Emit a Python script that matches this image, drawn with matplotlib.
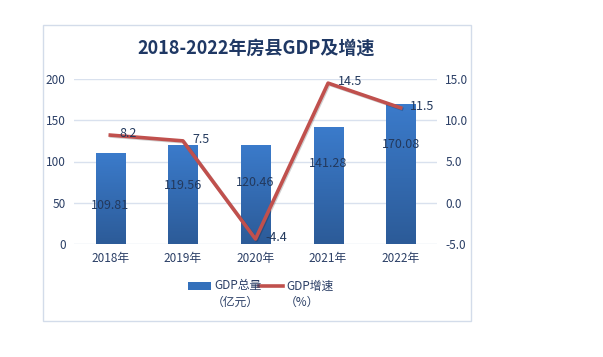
import numpy as np
import matplotlib.pyplot as plt
from matplotlib.patches import Rectangle
from matplotlib.colors import LinearSegmentedColormap
import matplotlib.patheffects as pe

plt.rcParams['font.family'] = ['Noto Sans CJK SC', 'DejaVu Sans']

years = ["2018年", "2019年", "2020年", "2021年", "2022年"]
gdp_total = [109.81, 119.56, 120.46, 141.28, 170.08]
gdp_growth = [8.2, 7.5, -4.4, 14.5, 11.5]

# label heights for bar values (layout only)
bar_label_y = [47, 71, 75, 98, 121]

navy = "#1f3864"
txt = "#2b3f66"
grid_c = "#d9e1ee"
red = "#c0504d"

fig = plt.figure(figsize=(6.03, 3.57), dpi=100)
fig.patch.set_facecolor("white")

# chart frame
fig.patches.append(Rectangle((43 / 603, 1 - 321 / 357), 428 / 603, 296 / 357,
                             transform=fig.transFigure, fill=False,
                             edgecolor="#d3dcea", linewidth=1.0))

ax = fig.add_axes([74 / 603, 1 - 244 / 357, 363 / 603, 165 / 357])
ax2 = ax.twinx()

x = np.arange(len(years))
bars = ax.bar(x, gdp_total, width=0.4, color="none", edgecolor="none", zorder=2)

# vertical gradient fill for bars
grad = np.linspace(0, 1, 256).reshape(-1, 1)
cmap = LinearSegmentedColormap.from_list("bar", ["#2c5b98", "#3b7bcb"])
for b in bars:
    x0, y0 = b.get_x(), b.get_y()
    w, h = b.get_width(), b.get_height()
    im = ax.imshow(grad, extent=[x0, x0 + w, y0, y0 + h], origin="lower",
                   cmap=cmap, aspect="auto", zorder=2)
    im.set_clip_path(b)

for i, v in enumerate(gdp_total):
    ax.text(x[i], bar_label_y[i], f"{v:.2f}", ha="center", va="center",
            fontsize=9, color="#23395d", zorder=4)

ax.set_xlim(-0.5, 4.5)
ax.set_ylim(0, 200)
ax.set_yticks([0, 50, 100, 150, 200])
ax.set_xticks(x)
ax.set_xticklabels(years)
ax.grid(axis="y", color=grid_c, linewidth=1.0, zorder=0)
ax.set_axisbelow(True)
for s in ax.spines.values():
    s.set_visible(False)
for s in ax2.spines.values():
    s.set_visible(False)
ax.tick_params(axis="both", length=0, labelsize=8.5, colors=txt, pad=6)

ax2.plot(x, gdp_growth, color=red, linewidth=2.6, zorder=5,
         path_effects=[pe.SimpleLineShadow(offset=(0.7, -0.7), alpha=0.18),
                       pe.Normal()])
ax2.set_ylim(-5, 15)
ax2.set_yticks([-5, 0, 5, 10, 15])
ax2.set_yticklabels([f"{t:.1f}" for t in [-5, 0, 5, 10, 15]])
ax2.tick_params(axis="y", length=0, labelsize=8.5, colors=txt, pad=6)
for i, v in enumerate(gdp_growth):
    ax2.text(x[i] + 0.13, v + 0.15, f"{v}", ha="left", va="center",
             fontsize=9, color="#23395d", zorder=6)

fig.text(256 / 603, 1 - 48 / 357, "2018-2022年房县GDP及增速", ha="center",
         va="center", fontsize=13, fontweight="bold", color=navy)

# legend
lx = fig.add_axes([0, 0, 1, 1], facecolor="none")
lx.set_axis_off()
lx.set_xlim(0, 603)
lx.set_ylim(357, 0)
lx.add_patch(Rectangle((188, 282), 23, 8, facecolor="#3370bb", edgecolor="none"))
lx.text(214, 286, "GDP总量", ha="left", va="center", fontsize=8.5, color=txt)
lx.text(235, 302, "（亿元）", ha="center", va="center", fontsize=8.5, color=txt)
lx.plot([259, 283], [286, 286], color=red, linewidth=2.6)
lx.text(286, 286, "GDP增速", ha="left", va="center", fontsize=8.5, color=txt)
lx.text(302, 302, "（%）", ha="center", va="center", fontsize=8.5, color=txt)

fig.savefig("out.png", dpi=100)
